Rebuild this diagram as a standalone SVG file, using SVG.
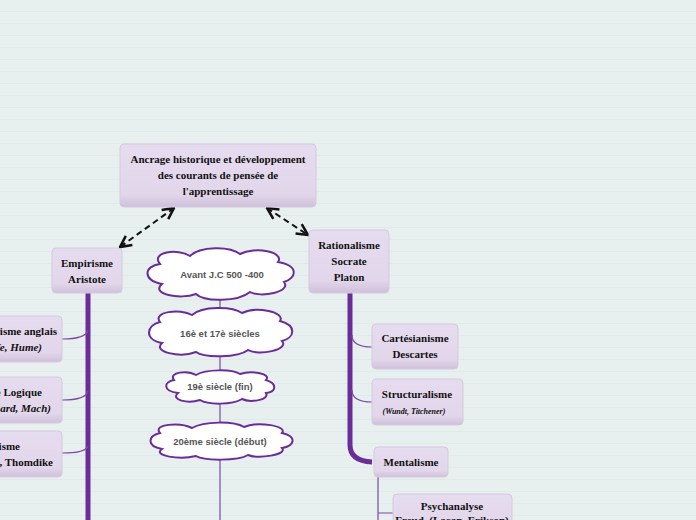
<svg xmlns="http://www.w3.org/2000/svg" width="696" height="520" viewBox="0 0 696 520">
<defs>
<pattern id="bg" width="20" height="12" patternUnits="userSpaceOnUse"><rect width="20" height="12" fill="#e7f0ef"/><line x1="0" y1="11.5" x2="20" y2="11.5" stroke="#e0eaea" stroke-width="1"/></pattern>
<linearGradient id="ng" x1="0" y1="0" x2="0" y2="1"><stop offset="0" stop-color="#e6dcef"/><stop offset="0.8" stop-color="#e2d6ea"/><stop offset="1" stop-color="#cfc0da"/></linearGradient>
<marker id="ah" viewBox="0 0 10 10" refX="9" refY="5" markerWidth="7" markerHeight="7" orient="auto-start-reverse"><path d="M1,1 L9,5 L1,9" fill="none" stroke="#111" stroke-width="1.8"/></marker>
<marker id="sa" viewBox="0 0 10 10" refX="9" refY="5" markerWidth="4" markerHeight="4" orient="auto"><path d="M0,0 L10,5 L0,10 z" fill="#7a4aa0"/></marker>
<style>
.n{fill:url(#ng);stroke:#d5c9de;stroke-width:1}
.t{font-family:"Liberation Serif","Times New Roman",serif;font-weight:bold;font-size:11px;fill:#111;text-anchor:middle}
.ti{font-style:italic}
.c{fill:#fff;stroke:#6a2d97;stroke-width:2}
.ct{font-family:"Liberation Sans",Arial,sans-serif;font-weight:bold;font-size:9.5px;fill:#555;text-anchor:middle}
.dash{fill:none;stroke:#111;stroke-width:2;stroke-dasharray:6,4}
.thick{fill:none;stroke:#6a2d97;stroke-width:5}
.thin{fill:none;stroke:#7a4aa0;stroke-width:1.2}
</style>
</defs>
<rect width="696" height="520" fill="url(#bg)"/>
<g id="connectors">
<line class="dash" x1="174" y1="208" x2="120" y2="247" marker-end="url(#ah)" marker-start="url(#ah)"/>
<line class="dash" x1="267" y1="208" x2="308" y2="235" marker-end="url(#ah)" marker-start="url(#ah)"/>
<line class="thick" x1="88" y1="293" x2="88" y2="520"/>
<path class="thin" d="M88,330 Q86,339 62,339"/>
<path class="thin" d="M88,391 Q86,400 62,400"/>
<path class="thin" d="M88,446 Q86,453 62,453"/>
<path class="thick" d="M350,293 L350,445 Q350,461 372,462"/>
<path class="thin" d="M352,335 Q352,347 372,347"/>
<path class="thin" d="M352,390 Q352,402 372,402"/>
<path class="thin" d="M378,477 L378,520 M378,513 L393,513"/>
<line class="thin" x1="220" y1="298" x2="220" y2="312" marker-end="url(#sa)"/>
<line class="thin" x1="220" y1="355" x2="220" y2="374" marker-end="url(#sa)"/>
<line class="thin" x1="220" y1="401" x2="220" y2="428" marker-end="url(#sa)"/>
<line class="thin" x1="220" y1="455" x2="220" y2="520"/>
</g>
<g id="root"><rect class="n" x="120" y="144" width="196" height="63" rx="4"/>
<text class="t" x="218" y="163">Ancrage historique et développement</text><text class="t" x="218" y="179">des courants de pensée de</text><text class="t" x="218" y="195">l'apprentissage</text></g>
<g id="empirisme"><rect class="n" x="52" y="248" width="70" height="45" rx="4"/>
<text class="t" x="87" y="267">Empirisme</text><text class="t" x="87" y="283">Aristote</text></g>
<g id="rationalisme"><rect class="n" x="309" y="230" width="80" height="63" rx="4"/>
<text class="t" x="349" y="249">Rationalisme</text><text class="t" x="349" y="265">Socrate</text><text class="t" x="349" y="281">Platon</text></g>
<g id="empirisme-anglais"><rect class="n" x="-60" y="316" width="122" height="46" rx="4"/>
<text class="t" style="text-anchor:end" x="57" y="335">isme anglais</text><text class="t ti" style="text-anchor:end" x="42" y="351">fe, Hume)</text></g>
<g id="positivisme"><rect class="n" x="-60" y="377" width="122" height="46" rx="4"/>
<text class="t" style="text-anchor:end" x="42" y="396">e Logique</text><text class="t ti" style="text-anchor:end" x="51" y="412">nard, Mach)</text></g>
<g id="behaviorisme"><rect class="n" x="-60" y="431" width="122" height="46" rx="4"/>
<text class="t" style="text-anchor:end" x="20" y="450">isme</text><text class="t" style="text-anchor:end" x="53" y="466">n, Thomdike</text></g>
<g id="cartesianisme"><rect class="n" x="372" y="324" width="86" height="45" rx="4"/>
<text class="t" x="415" y="342">Cartésianisme</text><text class="t" x="415" y="358">Descartes</text></g>
<g id="structuralisme"><rect class="n" x="372" y="379" width="91" height="46" rx="4"/>
<text class="t" x="417" y="398">Structuralisme</text><text class="t ti" x="414" y="414" style="font-size:8px">(Wundt, Titchener)</text></g>
<g id="mentalisme"><rect class="n" x="374" y="447" width="74" height="30" rx="4"/>
<text class="t" x="411" y="466">Mentalisme</text></g>
<g id="psychanalyse"><rect class="n" x="393" y="494" width="119" height="40" rx="4"/>
<text class="t" x="452" y="510">Psychanalyse</text><text class="t" x="452" y="524">Freud, (Lacan, Erikson)</text></g>
<g id="cloud1"><path class="c" d="M160,264 C150,252 178,248 190,256 C200,246 230,246 240,254 C255,246 285,252 278,262 C300,266 296,278 284,282 C292,292 260,298 250,292 C238,302 204,302 196,294 C180,300 150,294 162,284 C142,280 144,266 160,264 Z"/><text class="ct" x="222" y="278">Avant J.C 500 -400</text></g>
<g id="cloud2"><path class="c" d="M160,322 C152,312 180,308 192,315 C202,306 232,306 242,313 C256,306 286,312 280,321 C298,326 294,338 282,341 C290,350 258,356 248,350 C238,358 204,358 196,352 C180,358 152,352 162,343 C144,340 146,325 160,322 Z"/><text class="ct" x="220" y="337">16è et 17è siècles</text></g>
<g id="cloud3"><path class="c" d="M174,380 C168,372 188,370 196,375 C206,369 232,369 240,374 C252,370 272,374 266,380 C278,384 276,392 266,393 C270,400 250,403 242,399 C232,405 208,405 200,400 C188,404 170,400 178,393 C162,391 164,382 174,380 Z"/><text class="ct" x="220" y="390">19è siècle (fin)</text></g>
<g id="cloud4"><path class="c" d="M160,433 C152,424 180,422 192,428 C204,421 234,421 244,427 C258,421 288,426 282,433 C298,437 294,446 282,448 C288,455 258,459 248,455 C238,461 204,461 196,456 C180,460 152,456 162,449 C146,446 148,436 160,433 Z"/><text class="ct" x="220" y="445">20ème siècle (début)</text></g>
</svg>
